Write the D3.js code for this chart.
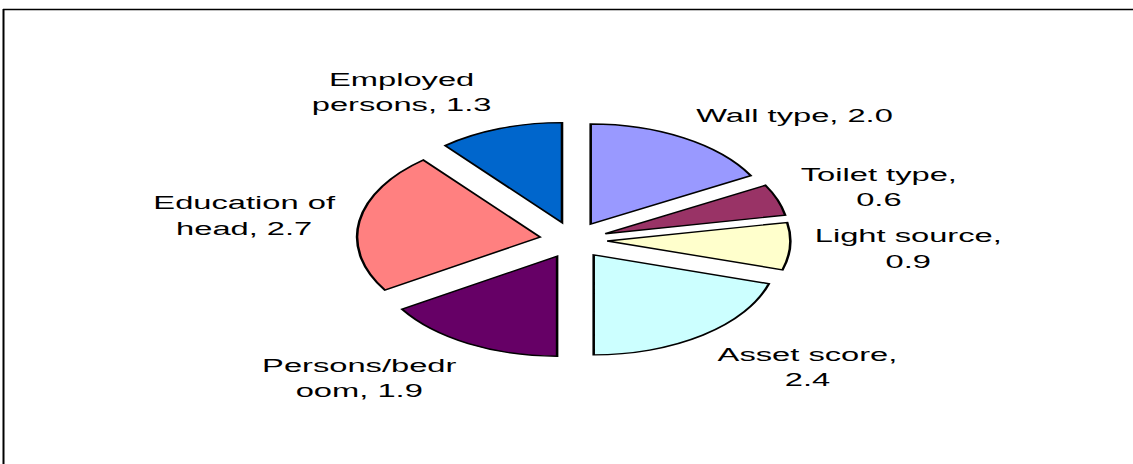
<!DOCTYPE html>
<html>
<head>
<meta charset="utf-8">
<script src="https://cdn.jsdelivr.net/npm/d3@7"></script>
<style>
  body { margin: 0; background: #fff; }
  svg { display: block; }
</style>
</head>
<body>
<svg id="svg"></svg>
<script>
// Slice data, clockwise from 12 o'clock
const categories = ["Wall type", "Toilet type", "Light source", "Asset score", "Persons/bedroom", "Education of head", "Employed persons"];
const values = [2.0, 0.6, 0.9, 2.4, 1.9, 2.7, 1.3];
const colours = ["#9999FF", "#993366", "#FFFFCC", "#CCFFFF", "#660066", "#FF8080", "#0066CC"];
// data labels as wrapped in the original chart
const labelLines = [
    ["Wall type, 2.0"],
    ["Toilet type,", "0.6"],
    ["Light source,", "0.9"],
    ["Asset score,", "2.4"],
    ["Persons/bedr", "oom, 1.9"],
    ["Education of", "head, 2.7"],
    ["Employed", "persons, 1.3"]
];

const w = 1133;
const h = 464;

// the original picture is stretched sideways
const cx = 573.5, cy = 240;
const radius = 100;
const stretch = 1.83;
const textStretch = 1.72;
const explode = 0.185;
const labelRadius = 1.32;
const fontSize = 19;
const lineHeight = 25.5;

let svg = d3.select("#svg")
    .attr("width", w)
    .attr("height", h);

svg.append("rect")
    .attr("width", w)
    .attr("height", h)
    .attr("fill", "#fff");

// frame (only top and left edges are visible)
svg.append("line")
    .attr("x1", 3.5).attr("y1", 9)
    .attr("x2", 3.5).attr("y2", h)
    .attr("stroke", "#000")
    .attr("stroke-width", 2);
svg.append("line")
    .attr("x1", 3).attr("y1", 9.5)
    .attr("x2", w).attr("y2", 9.5)
    .attr("stroke", "#000")
    .attr("stroke-width", 1.3);

let data = values.map((v, i) => ({ name: categories[i], value: v, colour: colours[i], lines: labelLines[i] }));

let pie = d3.pie()
    .sort(null)
    .value(d => d.value);

let arc = d3.arc()
    .innerRadius(0)
    .outerRadius(radius);

let arcs = pie(data);

let pieGroup = svg.append("g")
    .attr("transform", "translate(" + cx + "," + cy + ") scale(" + stretch + ",1)");

pieGroup.selectAll(".slice")
    .data(arcs)
    .enter()
    .append("path")
    .attr("class", "slice")
    .attr("transform", d => {
        let m = (d.startAngle + d.endAngle) / 2;
        return "translate(" + (explode * radius * Math.sin(m)) + "," + (-explode * radius * Math.cos(m)) + ")";
    })
    .attr("d", arc)
    .attr("fill", d => d.data.colour)
    .attr("stroke", "#000")
    .attr("stroke-width", 1.4)
    .attr("stroke-linejoin", "miter");

// Labels: a corner of the label box sits on a point along the slice's mid angle
arcs.forEach(d => {
    let m = (d.startAngle + d.endAngle) / 2;
    let ax = cx + stretch * radius * labelRadius * Math.sin(m);
    let ay = cy - radius * labelRadius * Math.cos(m);

    let g = svg.append("g");
    let inner = g.append("g");
    let texts = inner.selectAll("text")
        .data(d.data.lines)
        .enter()
        .append("text")
        .attr("x", 0)
        .attr("y", (t, i) => i * lineHeight + lineHeight / 2 + fontSize * 0.36)
        .attr("text-anchor", "middle")
        .attr("font-family", "'Liberation Sans', Arial, sans-serif")
        .attr("font-size", fontSize + "px")
        .attr("fill", "#000")
        .text(t => t);

    let maxLen = d3.max(texts.nodes(), n => n.getComputedTextLength()) * textStretch;
    let boxH = d.data.lines.length * lineHeight;
    let left = Math.sin(m) >= 0 ? ax : ax - maxLen;
    let top = ay - boxH * (1 + Math.cos(m)) / 2;

    inner.attr("transform", "translate(" + (left + maxLen / 2) + "," + top + ") scale(" + textStretch + ",1)");
});
</script>
</body>
</html>
